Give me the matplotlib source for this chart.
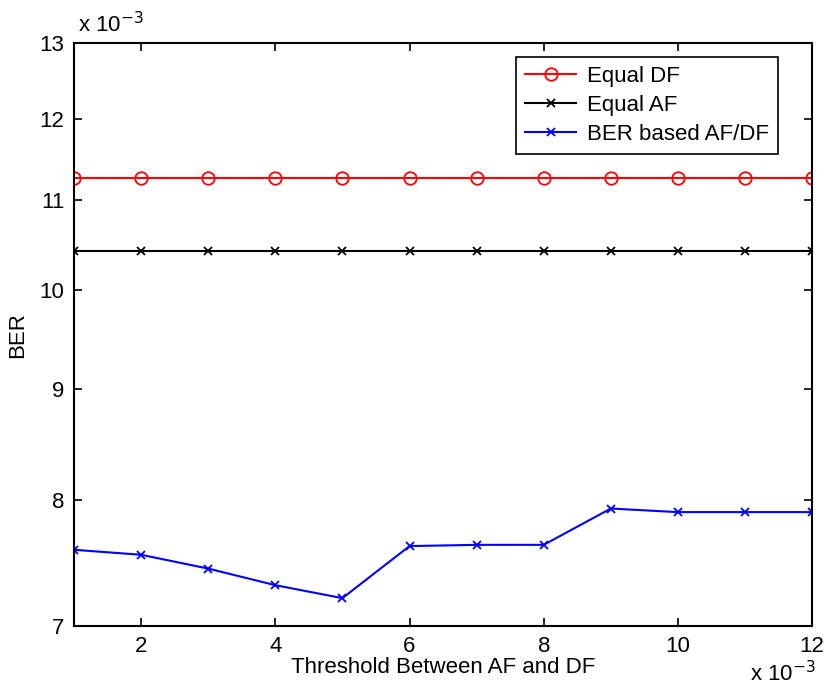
import matplotlib
matplotlib.use("Agg")
import matplotlib.pyplot as plt
from matplotlib.ticker import FixedLocator, FuncFormatter, NullLocator

plt.rcParams['font.family'] = ['Liberation Sans', 'DejaVu Sans']

x_vals = [1, 2, 3, 4, 5, 6, 7, 8, 9, 10, 11, 12]  # x 1e-3
equal_df = [11.27] * 12  # x 1e-3
equal_af = [10.43] * 12
ber_based = [7.59, 7.55, 7.44, 7.31, 7.21, 7.62, 7.63, 7.63, 7.93, 7.90, 7.90, 7.90]
y_ticks = [7, 8, 9, 10, 11, 12, 13]
x_ticks = [2, 4, 6, 8, 10, 12]

fig = plt.figure(figsize=(8.27, 6.86), dpi=100)
ax = fig.add_axes([0.0895, 0.0875, 0.8925, 0.8495])

xs = [v * 1e-3 for v in x_vals]
ax.plot(xs, [v * 1e-3 for v in equal_df], color='red', marker='o', markersize=9,
        markerfacecolor='none', markeredgewidth=1.3, linewidth=1.5, label='Equal DF')
ax.plot(xs, [v * 1e-3 for v in equal_af], color='black', marker='x', markersize=6,
        markeredgewidth=1.3, linewidth=1.5, label='Equal AF')
ax.plot(xs, [v * 1e-3 for v in ber_based], color='blue', marker='x', markersize=6,
        markeredgewidth=1.3, linewidth=1.5, label='BER based AF/DF')

ax.set_yscale('log')
ax.set_ylim(7e-3, 13e-3)
ax.set_xlim(1e-3, 12e-3)
ax.yaxis.set_major_locator(FixedLocator([t * 1e-3 for t in y_ticks]))
ax.yaxis.set_minor_locator(NullLocator())
ax.yaxis.set_major_formatter(FuncFormatter(lambda v, p: f"{v*1e3:.0f}"))
ax.yaxis.set_minor_formatter(FuncFormatter(lambda v, p: ""))
ax.xaxis.set_major_locator(FixedLocator([t * 1e-3 for t in x_ticks]))
ax.xaxis.set_major_formatter(FuncFormatter(lambda v, p: f"{v*1e3:.0f}"))

ax.tick_params(direction='in', top=True, right=True, length=6, width=1.2,
               labelsize=16, pad=7)
for s in ax.spines.values():
    s.set_linewidth(1.5)

ax.set_xlabel('Threshold Between AF and DF', fontsize=16, labelpad=0)
ax.set_ylabel('BER', fontsize=16, labelpad=8)

ax.text(0.005, 1.01, r'x 10$^{-3}$', transform=ax.transAxes, fontsize=16,
        ha='left', va='bottom')
ax.text(1.005, -0.06, r'x 10$^{-3}$', transform=ax.transAxes, fontsize=16,
        ha='right', va='top')

leg = ax.legend(loc='upper right', bbox_to_anchor=(0.954, 0.976), borderaxespad=0,
                fontsize=16, frameon=True, fancybox=False, edgecolor='black',
                framealpha=1, handlelength=2.3, handletextpad=0.5, borderpad=0.4,
                labelspacing=0.35)
leg.get_frame().set_linewidth(1.2)

fig.savefig('out.png', dpi=100)
